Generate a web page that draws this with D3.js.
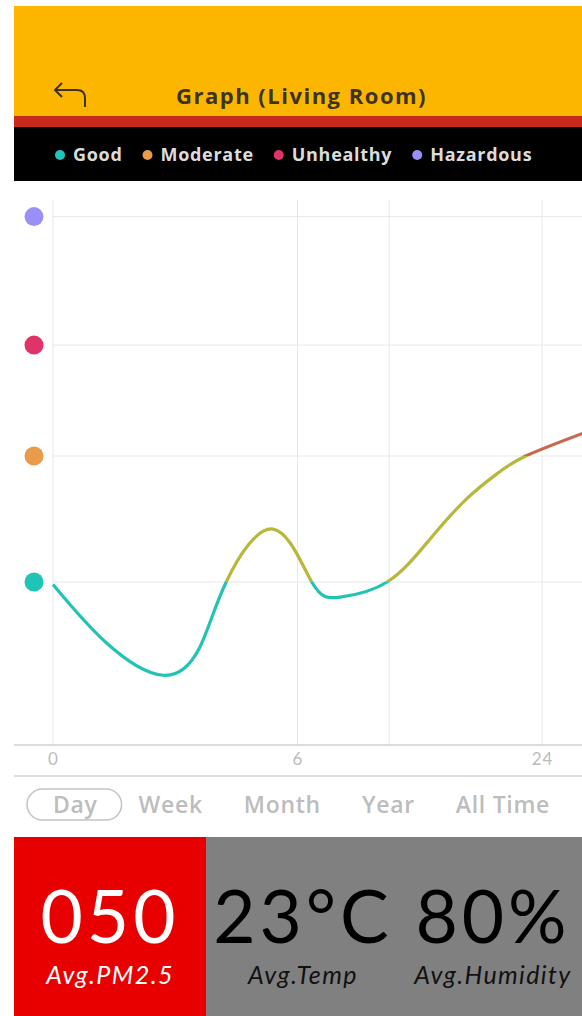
<!DOCTYPE html>
<html>
<head>
<meta charset="utf-8">
<script src="https://cdn.jsdelivr.net/npm/d3@7"></script>
<style>
  body { margin: 0; background: #fff; }
  svg { display: block; font-family: "Open Sans", "Lato", sans-serif; }
</style>
</head>
<body>
<div id="app"></div>
<script>
var width = 582,
    height = 1016;

// air quality levels (y axis markers)
var levelNames = ["Good", "Moderate", "Unhealthy", "Hazardous"];
var levelValues = [50, 100, 144, 195];
var levelColors = ["#1fc4b5", "#e89b48", "#e0336a", "#9a8ff6"];

// line colour below good, between good and moderate, above moderate
var lineColors = ["#22c3b5", "#b6b83b", "#c9664d"];

// PM2.5 readings over the day
var hours = [0, 2.6, 5.4, 7.2, 8.5, 10.8, 12.7, 14.1, 16.4, 18.5, 20.3, 21.8, 23.2, 26];
var pm    = [49, 26, 13, 24, 50, 71, 50, 44, 50, 67, 83, 93, 100, 109];

var tickHours  = [0, 12, 16.5, 24];
var tickLabels = ["0", "6", "", "24"];

var tabs = ["Day", "Week", "Month", "Year", "All Time"];

var statValues = ["050", "23°C", "80%"];
var statLabels = ["Avg.PM2.5", "Avg.Temp", "Avg.Humidity"];

var svg = d3.select("#app").append("svg")
    .attr("width", width)
    .attr("height", height);

// header
svg.append("rect")
    .attr("x", 14).attr("y", 6)
    .attr("width", width - 14).attr("height", 110)
    .attr("fill", "#fdb600");

svg.append("rect")
    .attr("x", 14).attr("y", 116)
    .attr("width", width - 14).attr("height", 11)
    .attr("fill", "#c8291d");

svg.append("path")
    .attr("d", "M85,107 V98 Q85,90 77,90 H55 M62,83 L55,90 L62,97")
    .attr("fill", "none")
    .attr("stroke", "#3d3320")
    .attr("stroke-width", 2)
    .attr("stroke-linejoin", "round");

svg.append("text")
    .attr("x", 176).attr("y", 104)
    .attr("font-size", 22)
    .attr("font-weight", 700)
    .attr("letter-spacing", 1.5)
    .attr("fill", "#3d3320")
    .text("Graph (Living Room)");

// legend bar
svg.append("rect")
    .attr("x", 14).attr("y", 127)
    .attr("width", width - 14).attr("height", 54)
    .attr("fill", "#000");

var legendX = 60;
var legend = svg.append("g");
levelNames.forEach(function(name, i) {
  var item = legend.append("g").attr("transform", "translate(" + legendX + ",155)");
  item.append("circle").attr("r", 5).attr("fill", levelColors[i]);
  var t = item.append("text")
      .attr("x", 13).attr("y", 6)
      .attr("font-size", 18)
      .attr("font-weight", 700)
      .attr("letter-spacing", 0.7)
      .attr("fill", "#dcdcdc")
      .text(name);
  legendX += 13 + t.node().getComputedTextLength() + 25;
});

// chart
var x = d3.scaleLinear()
    .domain([0, 24])
    .range([53, 542]);

var y = d3.scaleLinear()
    .domain([0, 200])
    .range([708, 204]);

var grid = svg.append("g");

grid.selectAll("line.v")
    .data(tickHours)
  .enter().append("line")
    .attr("class", "v")
    .attr("x1", x).attr("x2", x)
    .attr("y1", 200).attr("y2", 745)
    .attr("stroke", "#e8e8e8");

grid.selectAll("line.h")
    .data(levelValues)
  .enter().append("line")
    .attr("class", "h")
    .attr("x1", x(0)).attr("x2", width)
    .attr("y1", y).attr("y2", y)
    .attr("stroke", "#e8e8e8");

svg.selectAll("circle.level")
    .data(levelValues)
  .enter().append("circle")
    .attr("class", "level")
    .attr("cx", 34)
    .attr("cy", y)
    .attr("r", 9.5)
    .attr("fill", function(d, i) { return levelColors[i]; });

// hard-stop gradient so the line changes colour when it crosses a level
var grad = svg.append("defs").append("linearGradient")
    .attr("id", "lineGrad")
    .attr("gradientUnits", "userSpaceOnUse")
    .attr("x1", 0).attr("x2", 0)
    .attr("y1", y(levelValues[0]))
    .attr("y2", y(levelValues[1]));

[[0, lineColors[0]], [0, lineColors[1]], [1, lineColors[1]], [1, lineColors[2]]].forEach(function(s) {
  grad.append("stop").attr("offset", s[0]).attr("stop-color", s[1]);
});

var line = d3.line()
    .x(function(d) { return x(d[0]); })
    .y(function(d) { return y(d[1]); })
    .curve(d3.curveNatural);

svg.append("path")
    .datum(d3.zip(hours, pm))
    .attr("d", line)
    .attr("fill", "none")
    .attr("stroke", "url(#lineGrad)")
    .attr("stroke-width", 3.2);

// x axis
svg.append("line")
    .attr("x1", 14).attr("x2", width)
    .attr("y1", 745).attr("y2", 745)
    .attr("stroke", "#d2d2d2").attr("stroke-width", 1.5);

svg.append("line")
    .attr("x1", 14).attr("x2", width)
    .attr("y1", 776).attr("y2", 776)
    .attr("stroke", "#d2d2d2").attr("stroke-width", 1.5);

var xAxis = d3.axisBottom(x)
    .tickValues(tickHours)
    .tickFormat(function(d, i) { return tickLabels[i]; })
    .tickSize(0)
    .tickPadding(8);

svg.append("g")
    .attr("transform", "translate(0,745)")
    .call(xAxis)
    .call(function(g) { g.select(".domain").remove(); })
    .selectAll("text")
      .attr("font-size", 17)
      .attr("font-family", "Lato, sans-serif")
      .attr("letter-spacing", 1)
      .attr("fill", "#bcbcbc");

// period tabs
var tabX = 53;
var tabG = svg.append("g");
tabs.forEach(function(name, i) {
  var t = tabG.append("text")
      .attr("x", tabX).attr("y", 813)
      .attr("font-size", 23)
      .attr("font-weight", 600)
      .attr("letter-spacing", 0.7)
      .attr("fill", "#bdbdbd")
      .text(name);
  var w = t.node().getComputedTextLength();
  if (i === 0) {
    tabG.insert("rect", "text")
        .attr("x", tabX - 26).attr("y", 789)
        .attr("width", w + 50).attr("height", 31)
        .attr("rx", 15.5)
        .attr("fill", "none")
        .attr("stroke", "#c4c4c4")
        .attr("stroke-width", 1.5);
  }
  tabX += w + 41;
});

// stats panel
svg.append("rect")
    .attr("x", 14).attr("y", 837)
    .attr("width", 192).attr("height", height - 837)
    .attr("fill", "#e80000");

svg.append("rect")
    .attr("x", 206).attr("y", 837)
    .attr("width", width - 206).attr("height", height - 837)
    .attr("fill", "#808080");

var statX = [110, 303, 493];

svg.selectAll("text.stat")
    .data(statValues)
  .enter().append("text")
    .attr("class", "stat")
    .attr("x", function(d, i) { return statX[i]; })
    .attr("y", 943)
    .attr("text-anchor", "middle")
    .attr("font-family", "Lato, sans-serif")
    .attr("font-size", 73)
    .attr("letter-spacing", 4)
    .attr("fill", function(d, i) { return i === 0 ? "#fff" : "#000"; })
    .text(String);

svg.selectAll("text.statlabel")
    .data(statLabels)
  .enter().append("text")
    .attr("class", "statlabel")
    .attr("x", function(d, i) { return statX[i]; })
    .attr("y", 984)
    .attr("text-anchor", "middle")
    .attr("font-family", "Lato, sans-serif")
    .attr("font-size", 25)
    .attr("font-style", "italic")
    .attr("letter-spacing", 1.4)
    .attr("fill", function(d, i) { return i === 0 ? "#fff" : "#111"; })
    .text(String);
</script>
</body>
</html>
